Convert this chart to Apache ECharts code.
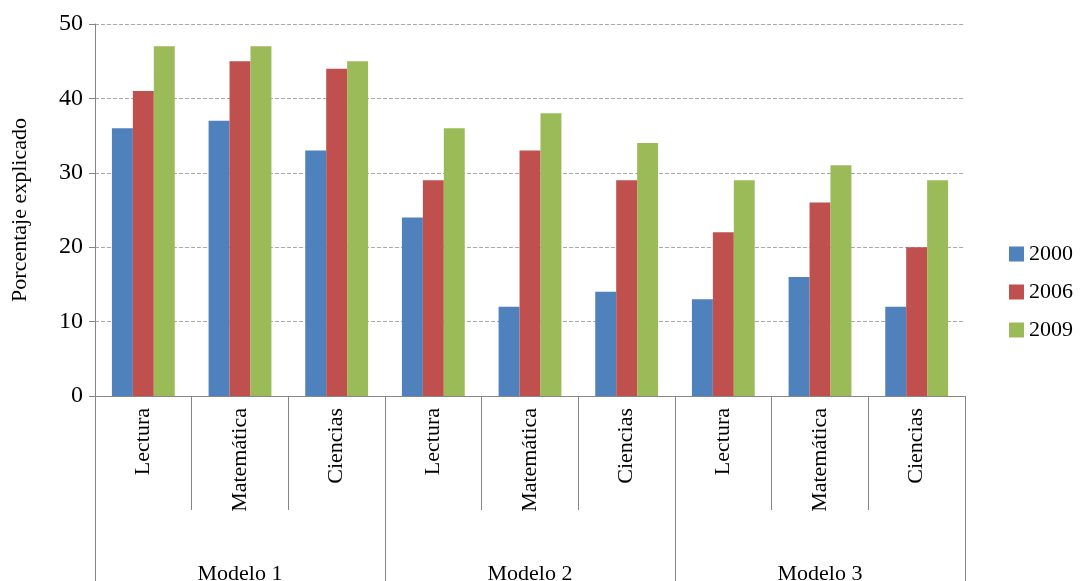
<!DOCTYPE html>
<html><head><meta charset="utf-8">
<script src="https://cdn.jsdelivr.net/npm/echarts@6/dist/echarts.min.js"></script>
<style>html,body{margin:0;background:#fff}#c{width:1082px;height:581px}</style>
</head><body><div id="c"></div>
<script>
var subjects = ['Lectura','Matemática','Ciencias','Lectura','Matemática','Ciencias','Lectura','Matemática','Ciencias'];
var models = ['Modelo 1','Modelo 2','Modelo 3'];
var v2000 = [36,37,33,24,12,14,13,16,12];
var v2006 = [41,45,44,29,33,29,22,26,20];
var v2009 = [47,47,45,36,38,34,29,31,29];

var font = 'Liberation Serif';
var chart = echarts.init(document.getElementById('c'));
function bar(name, data, color){
  return {name:name, type:'bar', data:data, barGap:'0%', barCategoryGap:'35%',
    itemStyle:{color:color}};
}
chart.setOption({
  animation:false,
  textStyle:{fontFamily:font},
  grid:{left:95, right:117, top:24, bottom:185, outerBoundsMode:'none'},
  legend:{orient:'vertical', right:4, top:238, icon:'rect', itemWidth:15, itemHeight:15, itemGap:16,
    textStyle:{fontFamily:font, fontSize:22, color:'#000'},
    data:['2000','2006','2009']},
  xAxis:[{
    type:'category', data:subjects,
    axisLine:{lineStyle:{color:'#868686'}},
    axisTick:{show:true, length:114, interval:0, lineStyle:{color:'#868686'}},
    axisLabel:{rotate:90, margin:12, fontSize:22, color:'#000', fontFamily:font}
  },{
    type:'category', data:models, position:'bottom', offset:185,
    axisLine:{show:false},
    axisTick:{show:true, inside:true, length:185, interval:0, lineStyle:{color:'#868686'}},
    axisLabel:{margin:-18, fontSize:22, color:'#000', fontFamily:font}
  }],
  yAxis:{
    type:'value', min:0, max:50, interval:10,
    name:'Porcentaje explicado', nameLocation:'middle', nameGap:64,
    nameTextStyle:{fontSize:22, color:'#000', fontFamily:font},
    axisLine:{show:true, lineStyle:{color:'#868686'}},
    axisTick:{show:true, length:6, lineStyle:{color:'#868686'}},
    axisLabel:{fontSize:24, color:'#000', fontFamily:font, margin:12},
    splitLine:{lineStyle:{color:'#aaa', type:'dashed'}}
  },
  series:[bar('2000', v2000, '#4F81BD'), bar('2006', v2006, '#C0504D'), bar('2009', v2009, '#9BBB59')]
});
</script></body></html>
